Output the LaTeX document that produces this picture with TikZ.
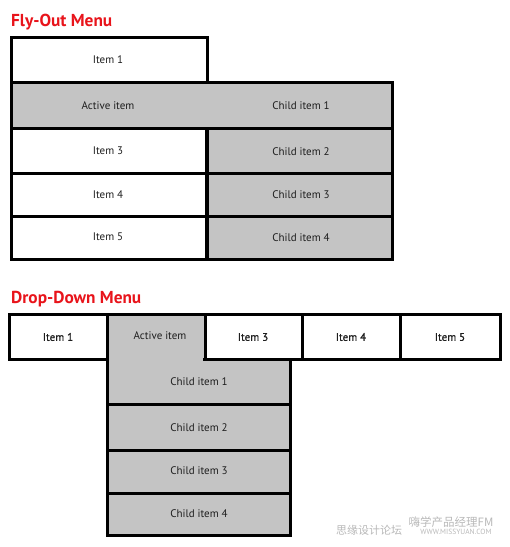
\documentclass[tikz,border=0pt]{standalone}
\usepackage{fontspec}
\setmainfont{PT Sans}
\newfontfamily\semib[FakeBold=0.8]{PT Sans}
\newfontfamily\titlef{PT Sans Bold}
\newfontfamily\cjk{Noto Sans CJK SC}
\definecolor{menugray}{HTML}{C4C4C4}
\definecolor{txt}{HTML}{1E1E1E}
\definecolor{titlered}{HTML}{E8141B}
\begin{document}
\begin{tikzpicture}[x=1pt,y=-1pt,
  edge/.style={line width=3pt, line cap=rect, line join=miter},
  lbl/.style={text=txt, font=\fontsize{11}{12}\selectfont, inner sep=0pt},
  toplbl/.style={text=txt, font=\fontsize{11}{12}\semib, inner sep=0pt},
  ttl/.style={text=titlered, font=\fontsize{17.3}{18}\titlef, inner sep=0pt, anchor=base west},
  wm/.style={text=black!28, inner sep=0pt}]
\useasboundingbox (0,0) rectangle (510,547);
% ---------------- Fly-Out ----------------
\node[ttl] (t1) at (11,26) {Fly-Out Menu};
\fill[menugray] (11,82) rectangle (392,128);
\fill[menugray] (207,128) rectangle (392,259);
\draw[edge] (11,37) -- (207,37) -- (207,82);
\draw[edge] (11,37) -- (11,259) -- (392,259) -- (392,82);
\draw[edge] (11,82) -- (392,82);
\draw[edge] (11,128) -- (392,128);
\draw[edge] (11,173) -- (392,173);
\draw[edge] (11,216) -- (392,216);
\draw[line width=3.8pt] (207,128) -- (207,259);
\node[lbl] (f1) at (108,60) {Item 1};
\node[lbl] (fa) at (108,106) {Active item};
\node[lbl] (fc1) at (301,106) {Child item 1};
\node[lbl] (f3) at (108,151) {Item 3};
\node[lbl] (fc2) at (301,152) {Child item 2};
\node[lbl] (f4) at (108,195) {Item 4};
\node[lbl] (fc3) at (301,195) {Child item 3};
\node[lbl] (f5) at (108,237) {Item 5};
\node[lbl] (fc4) at (301,238) {Child item 4};
% ---------------- Drop-Down ----------------
\node[ttl] (t2) at (11,303) {Drop-Down Menu};
\fill[menugray] (107,314) rectangle (205,359);
\fill[menugray] (107,359) rectangle (290,535);
\draw[edge] (9,314) rectangle (500,359);
\fill[menugray] (108.6,355) rectangle (203.4,362);
\draw[edge] (107,314) -- (107,535) -- (290,535) -- (290,359);
\draw[edge] (205,314) -- (205,359);
\draw[edge] (302,314) -- (302,359);
\draw[edge] (400,314) -- (400,359);
\draw[edge] (107,404) -- (290,404);
\draw[edge] (107,450) -- (290,450);
\draw[edge] (107,493) -- (290,493);
\node[toplbl] (d1) at (58,337) {Item 1};
\node[lbl] (da) at (160,336) {Active item};
\node[toplbl] (d3) at (253,337) {Item 3};
\node[toplbl] (d4) at (351,337) {Item 4};
\node[toplbl] (d5) at (450,337) {Item 5};
\node[lbl] (dc1) at (199,382) {Child item 1};
\node[lbl] (dc2) at (199,428) {Child item 2};
\node[lbl] (dc3) at (199,471) {Child item 3};
\node[lbl] (dc4) at (199,514) {Child item 4};
% ---------------- watermark ----------------
\node[wm, font=\fontsize{11.5}{12}\cjk] (w1) at (451,522) {嗨学产品经理FM};
\node[wm, font=\fontsize{11}{12}\cjk] (w2) at (369,530) {思缘设计论坛};
\node[wm, font=\fontsize{7.5}{8}\selectfont] (w3) at (456,532) {WWW.MISSYUAN.COM};
\end{tikzpicture}
\end{document}
